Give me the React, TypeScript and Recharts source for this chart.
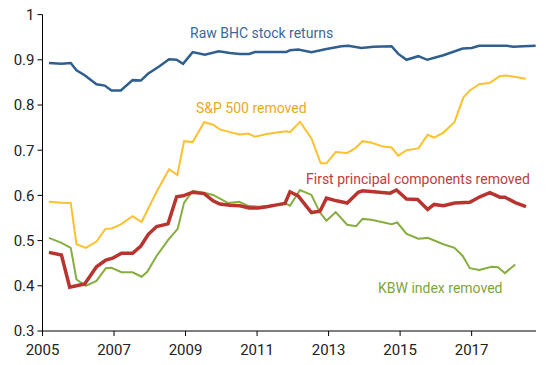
import React from 'react'
import { LineChart, Line, XAxis, YAxis, Customized } from 'recharts'

// values (year, correlation)
const rawYears = [2005.18, 2005.53, 2005.79, 2005.95, 2006.18, 2006.51, 2006.74, 2006.93, 2007.19, 2007.52, 2007.75, 2007.95, 2008.26, 2008.54, 2008.75, 2008.93, 2009.2, 2009.54, 2009.93, 2010.24, 2010.52, 2010.78, 2010.94, 2011.81, 2011.92, 2012.15, 2012.52, 2012.94, 2013.36, 2013.55, 2013.92, 2014.25, 2014.76, 2014.95, 2015.18, 2015.51, 2015.76, 2016.21, 2016.75, 2017.0, 2017.21, 2017.98, 2018.17, 2018.44, 2018.79]
const rawValues = [0.893, 0.891, 0.893, 0.877, 0.866, 0.846, 0.843, 0.832, 0.832, 0.855, 0.854, 0.869, 0.885, 0.901, 0.9, 0.891, 0.917, 0.911, 0.919, 0.915, 0.913, 0.913, 0.917, 0.917, 0.921, 0.923, 0.917, 0.924, 0.93, 0.931, 0.926, 0.929, 0.93, 0.913, 0.9, 0.908, 0.9, 0.91, 0.925, 0.926, 0.931, 0.931, 0.929, 0.93, 0.931]

const spYears = [2005.18, 2005.53, 2005.79, 2005.95, 2006.21, 2006.51, 2006.76, 2006.93, 2007.19, 2007.52, 2007.77, 2008.19, 2008.54, 2008.77, 2008.96, 2009.2, 2009.52, 2009.76, 2009.96, 2010.24, 2010.52, 2010.75, 2010.94, 2011.27, 2011.55, 2011.81, 2011.92, 2012.2, 2012.52, 2012.78, 2012.94, 2013.2, 2013.52, 2013.74, 2013.95, 2014.18, 2014.53, 2014.76, 2014.95, 2015.18, 2015.51, 2015.77, 2015.95, 2016.21, 2016.52, 2016.77, 2016.95, 2017.21, 2017.51, 2017.79, 2017.98, 2018.44, 2018.52]
const spValues = [0.586, 0.584, 0.583, 0.492, 0.484, 0.498, 0.526, 0.527, 0.536, 0.554, 0.541, 0.608, 0.658, 0.645, 0.72, 0.718, 0.762, 0.757, 0.746, 0.74, 0.735, 0.737, 0.73, 0.736, 0.739, 0.742, 0.74, 0.763, 0.726, 0.671, 0.671, 0.696, 0.694, 0.704, 0.72, 0.717, 0.708, 0.706, 0.688, 0.7, 0.704, 0.734, 0.728, 0.739, 0.762, 0.817, 0.832, 0.846, 0.849, 0.864, 0.865, 0.859, 0.858]

const pcYears = [2005.18, 2005.53, 2005.76, 2005.95, 2006.18, 2006.51, 2006.77, 2006.96, 2007.21, 2007.52, 2007.75, 2007.96, 2008.19, 2008.51, 2008.75, 2008.93, 2009.2, 2009.52, 2009.77, 2009.96, 2010.24, 2010.52, 2010.78, 2011.03, 2011.27, 2011.55, 2011.78, 2011.92, 2012.15, 2012.52, 2012.76, 2012.94, 2013.22, 2013.52, 2013.83, 2013.95, 2014.72, 2014.9, 2015.18, 2015.49, 2015.77, 2015.95, 2016.21, 2016.53, 2016.95, 2017.23, 2017.51, 2017.79, 2017.93, 2018.22, 2018.52]
const pcValues = [0.474, 0.468, 0.397, 0.4, 0.404, 0.442, 0.457, 0.461, 0.472, 0.472, 0.488, 0.514, 0.531, 0.537, 0.597, 0.599, 0.607, 0.604, 0.588, 0.581, 0.578, 0.577, 0.572, 0.572, 0.575, 0.579, 0.582, 0.608, 0.599, 0.562, 0.565, 0.594, 0.588, 0.583, 0.607, 0.61, 0.605, 0.612, 0.592, 0.591, 0.569, 0.58, 0.577, 0.583, 0.585, 0.597, 0.606, 0.596, 0.596, 0.584, 0.575]

const kbwYears = [2005.18, 2005.53, 2005.79, 2005.95, 2006.21, 2006.51, 2006.77, 2006.93, 2007.21, 2007.52, 2007.77, 2007.93, 2008.19, 2008.51, 2008.78, 2008.96, 2009.2, 2009.52, 2009.77, 2009.99, 2010.19, 2010.5, 2010.75, 2011.03, 2011.27, 2011.55, 2011.78, 2011.92, 2012.2, 2012.52, 2012.76, 2012.94, 2013.2, 2013.52, 2013.77, 2013.95, 2014.2, 2014.76, 2014.92, 2015.18, 2015.51, 2015.77, 2016.21, 2016.52, 2016.75, 2016.95, 2017.21, 2017.56, 2017.74, 2017.93, 2018.22]
const kbwValues = [0.506, 0.495, 0.484, 0.414, 0.4, 0.411, 0.439, 0.44, 0.43, 0.43, 0.42, 0.431, 0.466, 0.501, 0.526, 0.584, 0.61, 0.606, 0.601, 0.592, 0.583, 0.586, 0.577, 0.575, 0.576, 0.579, 0.583, 0.577, 0.612, 0.601, 0.562, 0.544, 0.563, 0.535, 0.532, 0.548, 0.546, 0.536, 0.54, 0.515, 0.504, 0.506, 0.492, 0.484, 0.466, 0.439, 0.435, 0.442, 0.441, 0.428, 0.447]

const xTicks = [2005, 2007, 2009, 2011, 2013, 2015, 2017]
const yTicks = [0.3, 0.4, 0.5, 0.6, 0.7, 0.8, 0.9, 1]

const toPoints = (years: number[], values: number[]) =>
  years.map((x, i) => ({ x, y: values[i] }))

const rawData = toPoints(rawYears, rawValues)
const spData = toPoints(spYears, spValues)
const pcData = toPoints(pcYears, pcValues)
const kbwData = toPoints(kbwYears, kbwValues)

const font = 'Roboto, "Noto Sans", sans-serif'

// series labels placed beside their lines
const Annotations = () => (
  <g fontFamily={font} fontSize={14}>
    <text x={190} y={38} fill="#3d6896">Raw BHC stock returns</text>
    <text x={196} y={113} fill="#e9a91f">S&amp;P 500 removed</text>
    <text x={306} y={184} fill="#c03c40">First principal components removed</text>
    <text x={378} y={293} fill="#7fa53a">KBW index removed</text>
  </g>
)

export default function App() {
  return (
    <div style={{ position: 'absolute', left: 0, top: 0, background: '#fff' }}>
      <LineChart width={550} height={365} margin={{ top: 14.6, right: 14, left: 0, bottom: 0 }}>
        <XAxis
          type="number"
          dataKey="x"
          domain={[2005, 2018.8]}
          ticks={xTicks}
          allowDuplicatedCategory={false}
          axisLine={{ stroke: '#000' }}
          tickLine={{ stroke: '#000' }}
          tickSize={5}
          tickMargin={8}
          height={34}
          tick={{ fill: '#222', fontSize: 15, fontFamily: font }}
        />
        <YAxis
          type="number"
          domain={[0.3, 1]}
          ticks={yTicks}
          width={42.5}
          axisLine={{ stroke: '#000' }}
          tickLine={{ stroke: '#000' }}
          tickSize={5}
          tickMargin={3}
          tick={{ fill: '#222', fontSize: 15, fontFamily: font }}
          tickFormatter={(v: number) => (v === 1 ? '1' : v.toFixed(1))}
        />
        <Line data={rawData} dataKey="y" type="linear" stroke="#2f5f8f" strokeWidth={2.5} dot={false} isAnimationActive={false} />
        <Line data={spData} dataKey="y" type="linear" stroke="#fcc12f" strokeWidth={2} dot={false} isAnimationActive={false} />
        <Line data={kbwData} dataKey="y" type="linear" stroke="#86ad3f" strokeWidth={2} dot={false} isAnimationActive={false} />
        <Line data={pcData} dataKey="y" type="linear" stroke="#b8342f" strokeWidth={3.5} dot={false} isAnimationActive={false} />
        <Customized component={Annotations} />
      </LineChart>
    </div>
  )
}
